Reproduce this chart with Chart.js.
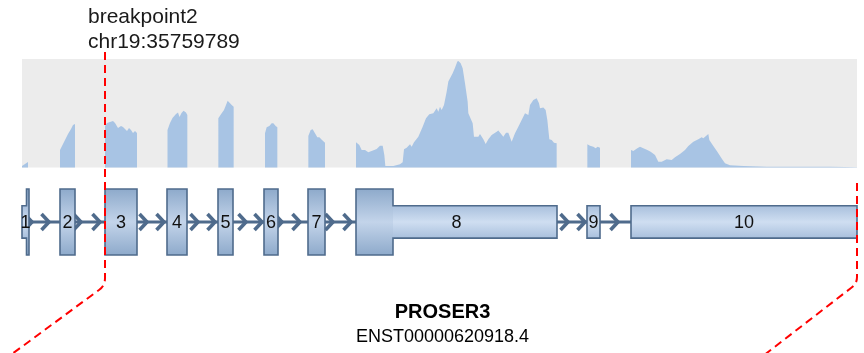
<!DOCTYPE html>
<html>
<head>
<meta charset="utf-8">
<script src="https://cdn.jsdelivr.net/npm/chart.js@4.4.1/dist/chart.umd.min.js"></script>
<style>
  html, body { margin: 0; padding: 0; background: #fff; }
  canvas { display: block; }
</style>
</head>
<body>
<canvas id="geneChart" width="864" height="353"></canvas>
<script>
// --- Data (positions in plot units along the transcript, 0..1002) ---
const geneName = 'PROSER3';
const transcriptId = 'ENST00000620918.4';
const breakpointText = ['breakpoint2', 'chr19:35759789'];
const breakpointPos = 99.6;   // start of exon 3
const transcriptEnd = 1002;

const exonNumbers = [1, 2, 3, 4, 5, 6, 7, 8, 9, 10];
const exonStart = [0, 45.6, 99.6, 174, 235.2, 290.4, 343.2, 400.8, 678, 730.8];
const exonEnd   = [8.4, 63.6, 138, 198, 253.2, 307.2, 363.6, 642, 693.6, 1002];
const cdsStart  = [5.4, 45.6, 99.6, 174, 235.2, 290.4, 343.2, 400.8, null, null];
const cdsEnd    = [8.4, 63.6, 138, 198, 253.2, 307.2, 363.6, 445.2, null, null];

// intron direction marks
const arrowPos = [14.4, 34.8, 73.2, 96, 152.4, 172.8, 213.6, 234, 271.2, 290.4,
                  314.4, 336, 375.6, 397.2, 657.6, 678, 717.6];

// read coverage
const covMax = 500;
const covPos = [
  0, 0, 7.2, 7.2,
  45.6, 45.6, 48, 51.6, 55.2, 58.8, 61.2, 63.6, 63.6,
  99.6, 99.6, 102, 105.6, 109.2, 111.6, 115.2, 118.8, 121.2, 123.6, 126, 128.4, 130.8, 133.2, 135.6, 138, 138,
  174.6, 174.6, 177.6, 180.6, 184.8, 187.2, 189, 191.4, 193.8, 196.8, 198.4, 198.4,
  235.6, 235.6, 239.6, 242.4, 244.8, 246.8, 248.8, 251.6, 254, 254,
  291.6, 291.6, 293.6, 296.8, 299.6, 301.6, 304.4, 306.4, 306.4,
  343.6, 343.6, 346.4, 348.8, 351.6, 354.4, 356.8, 360, 363.6, 363.6,
  400.8, 400.8, 404.8, 407.6, 411.6, 415.6, 419.6, 425.6, 429.6, 432.8, 434.8, 436, 445.6, 453.6, 456.8,
  458.4, 461.6, 465.6, 467.6, 470.4, 475.6, 480.8, 484.8, 488.8, 493.6, 497.6, 499.6, 501.6, 503.6, 506.4,
  509.6, 511.6, 516.8, 519.6, 522.4, 523.6, 526.4, 528.8, 531.6, 534.8, 535.6, 540.8, 542.4, 547.6, 549.6,
  553.6, 556.4, 559.6, 563.6, 569.6, 571.6, 577.6, 580.8, 583.6, 587.6, 591.6, 595.6, 599.6, 603.6, 607.6,
  609.6, 613.6, 617.6, 620.4, 621.6, 625.6, 628.4, 630.4, 632.8, 635.6, 638.4, 641.6, 641.6,
  678.4, 678.4, 681.6, 685.6, 688.4, 690.8, 693.6, 693.6,
  730.8, 730.8, 733.6, 738.4, 741.6, 745.6, 750.4, 754.4, 759.6, 763.6, 767.6, 773.6, 779.6, 783.6, 789.6,
  795.6, 799.6, 805.6, 811.6, 815.6, 817.6, 820.8, 823.6, 824.8, 829.6, 834.4, 839.6, 843.6, 849.6, 865.6,
  893.6, 933.6, 969.6, 987.6, 1002, 1002
];
const covDepth = [
  0, 7, 25, 0,
  0, 81, 99, 127, 154, 178, 196, 200, 0,
  0, 191, 205, 210, 214, 205, 182, 191, 187, 178, 168, 182, 173, 159, 168, 159, 0,
  0, 173, 205, 228, 247, 254, 233, 251, 261, 254, 242, 0,
  0, 227, 250, 265, 288, 308, 299, 288, 280, 0,
  0, 158, 185, 191, 204, 204, 191, 185, 0,
  0, 145, 173, 176, 158, 139, 139, 127, 114, 0,
  0, 116, 104, 81, 81, 70, 76, 85, 100, 100, 58, 7, 7, 15, 24,
  84, 91, 107, 96, 116, 142, 188, 227, 245, 250, 273, 257, 280, 265, 288,
  349, 396, 434, 460, 488, 491, 480, 457, 388, 303, 250, 204, 142, 142, 154,
  130, 108, 130, 150, 165, 170, 142, 160, 160, 119, 158, 188, 219, 250, 242,
  288, 311, 319, 296, 273, 277, 265, 219, 130, 127, 114, 112, 0,
  0, 107, 100, 96, 89, 96, 91, 0,
  0, 81, 76, 89, 96, 89, 81, 73, 58, 27, 27, 38, 35, 47, 62,
  81, 99, 119, 130, 139, 135, 145, 154, 127, 99, 73, 42, 19, 10, 7,
  4, 3, 4, 2, 1, 0
];

const covPoints = covPos.map((p, i) => ({ x: p, y: covDepth[i] }));

// --- Gene structure drawing ---
const lineColor = '#4f6b8c';

function exonOutline(ctx, s, e, cs, ce, yc, h1, h2) {
  ctx.beginPath();
  if (cs === null) { ctx.rect(s, yc - h2, e - s, 2 * h2); return; }
  ctx.moveTo(s, yc - h2);
  ctx.lineTo(cs, yc - h2); ctx.lineTo(cs, yc - h1); ctx.lineTo(ce, yc - h1); ctx.lineTo(ce, yc - h2);
  ctx.lineTo(e, yc - h2); ctx.lineTo(e, yc + h2); ctx.lineTo(ce, yc + h2); ctx.lineTo(ce, yc + h1);
  ctx.lineTo(cs, yc + h1); ctx.lineTo(cs, yc + h2); ctx.lineTo(s, yc + h2);
  ctx.closePath();
}

function vGradient(ctx, top, bottom, edge, mid) {
  const g = ctx.createLinearGradient(0, top, 0, bottom);
  g.addColorStop(0, edge);
  g.addColorStop(0.5, mid);
  g.addColorStop(1, edge);
  return g;
}

const genePlugin = {
  id: 'geneTrack',
  afterDatasetsDraw(chart) {
    const ctx = chart.ctx;
    const xs = chart.scales.x;
    const yg = chart.scales.yg;
    const px = v => xs.getPixelForValue(v);
    const py = v => yg.getPixelForValue(v);
    const yc = py(0);
    const h1 = yc - py(1);      // coding part half height
    const h2 = yc - py(0.49);   // UTR half height

    ctx.save();
    // intron backbone
    ctx.strokeStyle = lineColor;
    ctx.lineWidth = 3;
    ctx.beginPath();
    ctx.moveTo(px(exonEnd[0]), yc);
    ctx.lineTo(px(exonStart[exonStart.length - 1]), yc);
    ctx.stroke();

    // chevrons
    ctx.lineWidth = 3.6;
    ctx.lineJoin = 'miter';
    ctx.lineCap = 'butt';
    arrowPos.forEach(a => {
      const t = px(a) - 2;
      ctx.beginPath();
      ctx.moveTo(t - 7.5, yc - 8);
      ctx.lineTo(t, yc);
      ctx.lineTo(t - 7.5, yc + 8);
      ctx.stroke();
    });

    // exons
    exonNumbers.forEach((n, i) => {
      const s = px(exonStart[i]), e = px(exonEnd[i]);
      const cs = cdsStart[i] === null ? null : px(cdsStart[i]);
      const ce = cdsEnd[i] === null ? null : px(cdsEnd[i]);
      ctx.fillStyle = vGradient(ctx, yc - h2, yc + h2, '#a9c0dd', '#cfdef1');
      ctx.fillRect(s, yc - h2, e - s, 2 * h2);
      if (cs !== null) {
        ctx.fillStyle = vGradient(ctx, yc - h1, yc + h1, '#8eaacb', '#c3d4ea');
        ctx.fillRect(cs, yc - h1, ce - cs, 2 * h1);
      }
      exonOutline(ctx, s, e, cs, ce, yc, h1, h2);
      ctx.strokeStyle = lineColor;
      ctx.lineWidth = 1.6;
      ctx.stroke();

      ctx.fillStyle = '#111';
      ctx.font = '18px "Liberation Sans", Arial, sans-serif';
      ctx.textAlign = 'center';
      ctx.textBaseline = 'middle';
      ctx.fillText(String(n), (s + e) / 2, yc + 1);
    });

    // breakpoint guides
    ctx.strokeStyle = '#ff0000';
    ctx.lineWidth = 2;
    ctx.setLineDash([8, 5]);
    const bx = px(breakpointPos);
    ctx.beginPath();
    ctx.moveTo(bx, py(5.15));
    ctx.lineTo(bx, py(-1.7));
    ctx.quadraticCurveTo(bx, py(-1.94), bx - 6, py(-2.06));
    ctx.lineTo(px(-16.8), py(-4.09));
    ctx.stroke();

    const ex = px(transcriptEnd);
    ctx.beginPath();
    ctx.moveTo(ex, py(1.18));
    ctx.lineTo(ex, py(-1.67));
    ctx.quadraticCurveTo(ex, py(-1.88), ex - 6, py(-2.0));
    ctx.lineTo(px(889.2), py(-4.06));
    ctx.stroke();
    ctx.setLineDash([]);

    // texts
    ctx.fillStyle = '#1a1a1a';
    ctx.textAlign = 'left';
    ctx.textBaseline = 'alphabetic';
    ctx.font = '21px "Liberation Sans", Arial, sans-serif';
    ctx.fillText(breakpointText[0], bx - 17, 23);
    ctx.fillText(breakpointText[1], bx - 17, 48);

    const cx = (chart.chartArea.left + chart.chartArea.right) / 2 + 3;
    ctx.textAlign = 'center';
    ctx.fillStyle = '#000';
    ctx.font = 'bold 20px "Liberation Sans", Arial, sans-serif';
    ctx.fillText(geneName, cx, 318);
    ctx.font = '18px "Liberation Sans", Arial, sans-serif';
    ctx.fillText(transcriptId, cx, 342);
    ctx.restore();
  }
};

const ctx = document.getElementById('geneChart').getContext('2d');

const chart = new Chart(ctx, {
  type: 'line',
  data: {
    datasets: [
      {
        label: 'coverage',
        data: covPoints,
        backgroundColor: '#a8c4e4',
        borderWidth: 0,
        pointRadius: 0,
        fill: 'origin',
        tension: 0,
        order: 1
      },
      {
        label: 'background',
        data: [{ x: 0, y: covMax }, { x: transcriptEnd, y: covMax }],
        backgroundColor: '#ececec',
        borderWidth: 0,
        pointRadius: 0,
        fill: 'origin',
        order: 2
      }
    ]
  },
  options: {
    responsive: false,
    animation: false,
    layout: { padding: { left: 22, right: 7, top: 0, bottom: 0 } },
    plugins: { legend: { display: false }, tooltip: { enabled: false } },
    scales: {
      x: { type: 'linear', min: 0, max: transcriptEnd, display: false },
      y: { min: -855, max: 772, display: false },
      yg: { min: -3.97, max: 6.727, display: false }
    }
  },
  plugins: [genePlugin]
});
</script>
</body>
</html>
